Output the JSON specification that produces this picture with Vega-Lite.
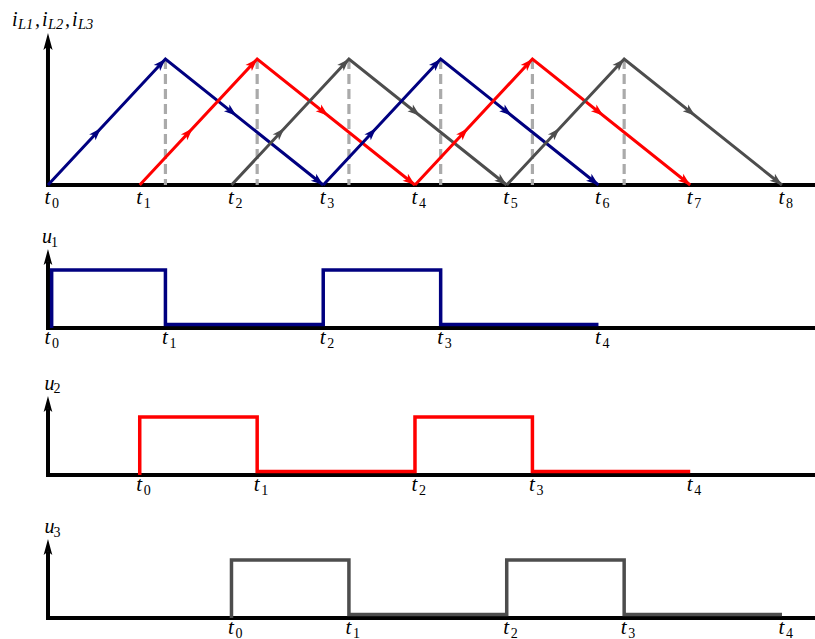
{
  "$schema": "https://vega.github.io/schema/vega-lite/v6.json",
  "padding": 0,
  "background": "white",
  "spacing": 0,
  "bounds": "flush",
  "config": {
    "view": {"stroke": null},
    "axis": {"disable": true},
    "text": {"font": "Liberation Serif", "fontStyle": "italic", "color": "black"}
  },
  "datasets": {
    "tri": [
      {"id": "a1", "ph": "L1", "t": 0, "v": 0}, {"id": "a1", "ph": "L1", "t": 1.28, "v": 1}, {"id": "a1", "ph": "L1", "t": 3, "v": 0},
      {"id": "b1", "ph": "L2", "t": 1, "v": 0}, {"id": "b1", "ph": "L2", "t": 2.28, "v": 1}, {"id": "b1", "ph": "L2", "t": 4, "v": 0},
      {"id": "c1", "ph": "L3", "t": 2, "v": 0}, {"id": "c1", "ph": "L3", "t": 3.28, "v": 1}, {"id": "c1", "ph": "L3", "t": 5, "v": 0},
      {"id": "a2", "ph": "L1", "t": 3, "v": 0}, {"id": "a2", "ph": "L1", "t": 4.28, "v": 1}, {"id": "a2", "ph": "L1", "t": 6, "v": 0},
      {"id": "b2", "ph": "L2", "t": 4, "v": 0}, {"id": "b2", "ph": "L2", "t": 5.28, "v": 1}, {"id": "b2", "ph": "L2", "t": 7, "v": 0},
      {"id": "c2", "ph": "L3", "t": 5, "v": 0}, {"id": "c2", "ph": "L3", "t": 6.28, "v": 1}, {"id": "c2", "ph": "L3", "t": 8, "v": 0}
    ],
    "arrows": [
      {"ph": "L1", "t": 0.576, "v": 0.45, "dir": "up"}, {"ph": "L1", "t": 1.28, "v": 1, "dir": "up"}, {"ph": "L1", "t": 2.054, "v": 0.55, "dir": "down"}, {"ph": "L1", "t": 3, "v": 0, "dir": "down"},
      {"ph": "L2", "t": 1.576, "v": 0.45, "dir": "up"}, {"ph": "L2", "t": 2.28, "v": 1, "dir": "up"}, {"ph": "L2", "t": 3.054, "v": 0.55, "dir": "down"}, {"ph": "L2", "t": 4, "v": 0, "dir": "down"},
      {"ph": "L3", "t": 2.576, "v": 0.45, "dir": "up"}, {"ph": "L3", "t": 3.28, "v": 1, "dir": "up"}, {"ph": "L3", "t": 4.054, "v": 0.55, "dir": "down"}, {"ph": "L3", "t": 5, "v": 0, "dir": "down"},
      {"ph": "L1", "t": 3.576, "v": 0.45, "dir": "up"}, {"ph": "L1", "t": 4.28, "v": 1, "dir": "up"}, {"ph": "L1", "t": 5.054, "v": 0.55, "dir": "down"}, {"ph": "L1", "t": 6, "v": 0, "dir": "down"},
      {"ph": "L2", "t": 4.576, "v": 0.45, "dir": "up"}, {"ph": "L2", "t": 5.28, "v": 1, "dir": "up"}, {"ph": "L2", "t": 6.054, "v": 0.55, "dir": "down"}, {"ph": "L2", "t": 7, "v": 0, "dir": "down"},
      {"ph": "L3", "t": 5.576, "v": 0.45, "dir": "up"}, {"ph": "L3", "t": 6.28, "v": 1, "dir": "up"}, {"ph": "L3", "t": 7.054, "v": 0.55, "dir": "down"}, {"ph": "L3", "t": 8, "v": 0, "dir": "down"}
    ],
    "peaks": [{"t": 1.28}, {"t": 2.28}, {"t": 3.28}, {"t": 4.28}, {"t": 5.28}, {"t": 6.28}],
    "ticks0": [
      {"t": 0, "n": "0"}, {"t": 1, "n": "1"}, {"t": 2, "n": "2"}, {"t": 3, "n": "3"}, {"t": 4, "n": "4"},
      {"t": 5, "n": "5"}, {"t": 6, "n": "6"}, {"t": 7, "n": "7"}, {"t": 8, "n": "8"}
    ],
    "u1": [
      {"k": 0, "t": 0.04, "v": 0}, {"k": 1, "t": 0.04, "v": 1}, {"k": 2, "t": 1.28, "v": 1}, {"k": 3, "t": 1.28, "v": 0.06},
      {"k": 4, "t": 3, "v": 0.06}, {"k": 5, "t": 3, "v": 1}, {"k": 6, "t": 4.28, "v": 1}, {"k": 7, "t": 4.28, "v": 0.06}, {"k": 8, "t": 6, "v": 0.06}
    ],
    "u2": [
      {"k": 0, "t": 1, "v": 0}, {"k": 1, "t": 1, "v": 1}, {"k": 2, "t": 2.28, "v": 1}, {"k": 3, "t": 2.28, "v": 0.06},
      {"k": 4, "t": 4, "v": 0.06}, {"k": 5, "t": 4, "v": 1}, {"k": 6, "t": 5.28, "v": 1}, {"k": 7, "t": 5.28, "v": 0.06}, {"k": 8, "t": 7, "v": 0.06}
    ],
    "u3": [
      {"k": 0, "t": 2, "v": 0}, {"k": 1, "t": 2, "v": 1}, {"k": 2, "t": 3.28, "v": 1}, {"k": 3, "t": 3.28, "v": 0.06},
      {"k": 4, "t": 5, "v": 0.06}, {"k": 5, "t": 5, "v": 1}, {"k": 6, "t": 6.28, "v": 1}, {"k": 7, "t": 6.28, "v": 0.06}, {"k": 8, "t": 8, "v": 0.06}
    ],
    "tk1": [{"t": 0, "n": "0"}, {"t": 1.28, "n": "1"}, {"t": 3, "n": "2"}, {"t": 4.28, "n": "3"}, {"t": 6, "n": "4"}],
    "tk2": [{"t": 1, "n": "0"}, {"t": 2.28, "n": "1"}, {"t": 4, "n": "2"}, {"t": 5.28, "n": "3"}, {"t": 7, "n": "4"}],
    "tk3": [{"t": 2, "n": "0"}, {"t": 3.28, "n": "1"}, {"t": 5, "n": "2"}, {"t": 6.28, "n": "3"}, {"t": 8, "n": "4"}]
  },
  "vconcat": [
    {
      "width": 815,
      "height": 185,
      "layer": [
        {"data": {"values": [{}]}, "mark": {"type": "rule", "color": "black", "strokeWidth": 4}, "encoding": {"x": {"datum": -0.015, "type": "quantitative"}, "x2": {"datum": 8.36}, "y": {"datum": 0, "type": "quantitative"}}},
        {"data": {"values": [{}]}, "mark": {"type": "rule", "color": "black", "strokeWidth": 4}, "encoding": {"x": {"datum": 0, "type": "quantitative"}, "y": {"datum": -0.016, "type": "quantitative"}, "y2": {"datum": 1.12}}},
        {"data": {"values": [{}]}, "mark": {"type": "point", "shape": "M0,0L0.27,1L0,0.78L-0.27,1Z", "size": 1156, "filled": true, "opacity": 1, "color": "black", "strokeWidth": 0}, "encoding": {"x": {"datum": 0, "type": "quantitative"}, "y": {"datum": 1.206, "type": "quantitative"}}},
        {
          "data": {"name": "peaks"},
          "mark": {"type": "rule", "color": "#aaaaaa", "strokeWidth": 3.2, "strokeDash": [10, 5]},
          "encoding": {"x": {"field": "t", "type": "quantitative"}, "y": {"datum": 1, "type": "quantitative"}, "y2": {"datum": 0}}
        },
        {
          "data": {"name": "tri"},
          "mark": {"type": "line", "strokeWidth": 3, "strokeJoin": "miter"},
          "encoding": {
            "x": {"field": "t", "type": "quantitative", "scale": {"domain": [-0.523, 8.36], "nice": false, "zero": false}, "axis": null},
            "y": {"field": "v", "type": "quantitative", "scale": {"domain": [0, 1.468], "nice": false, "zero": false}, "axis": null},
            "color": {"field": "ph", "type": "nominal", "scale": {"domain": ["L1", "L2", "L3"], "range": ["#000080", "#ff0000", "#4d4d4d"]}, "legend": null},
            "detail": {"field": "id"}
          }
        },
        {
          "data": {"name": "arrows"},
          "mark": {"type": "point", "shape": "M0,0L0.35,1L0,0.75L-0.35,1Z", "size": 620, "filled": true, "opacity": 1, "strokeWidth": 0},
          "encoding": {
            "x": {"field": "t", "type": "quantitative"},
            "y": {"field": "v", "type": "quantitative"},
            "color": {"field": "ph", "type": "nominal", "scale": {"domain": ["L1", "L2", "L3"], "range": ["#000080", "#ff0000", "#4d4d4d"]}, "legend": null},
            "angle": {"field": "dir", "type": "nominal", "scale": {"domain": ["up", "down"], "range": [43, 128.6]}}
          }
        },
        {"data": {"name": "ticks0"}, "mark": {"type": "text", "align": "left", "baseline": "alphabetic", "dx": -3.5, "dy": 18.5, "fontSize": 21}, "encoding": {"x": {"field": "t", "type": "quantitative"}, "y": {"datum": 0, "type": "quantitative"}, "text": {"value": "t"}}},
        {"data": {"name": "ticks0"}, "mark": {"type": "text", "align": "left", "baseline": "alphabetic", "dx": 4, "dy": 22.5, "fontSize": 14, "fontStyle": "normal"}, "encoding": {"x": {"field": "t", "type": "quantitative"}, "y": {"datum": 0, "type": "quantitative"}, "text": {"field": "n"}}},
        {"data": {"values": [{}]}, "mark": {"type": "text", "align": "left", "baseline": "alphabetic", "dx": -36, "dy": -7, "fontSize": 20}, "encoding": {"x": {"datum": 0, "type": "quantitative"}, "y": {"datum": 1.206, "type": "quantitative"}, "text": {"value": "i"}}},
        {"data": {"values": [{}]}, "mark": {"type": "text", "align": "left", "baseline": "alphabetic", "dx": -30, "dy": -4, "fontSize": 14.5}, "encoding": {"x": {"datum": 0, "type": "quantitative"}, "y": {"datum": 1.206, "type": "quantitative"}, "text": {"value": "L1"}}},
        {"data": {"values": [{}]}, "mark": {"type": "text", "align": "left", "baseline": "alphabetic", "dx": -13, "dy": -7, "fontSize": 20}, "encoding": {"x": {"datum": 0, "type": "quantitative"}, "y": {"datum": 1.206, "type": "quantitative"}, "text": {"value": ","}}},
        {"data": {"values": [{}]}, "mark": {"type": "text", "align": "left", "baseline": "alphabetic", "dx": -6, "dy": -7, "fontSize": 20}, "encoding": {"x": {"datum": 0, "type": "quantitative"}, "y": {"datum": 1.206, "type": "quantitative"}, "text": {"value": "i"}}},
        {"data": {"values": [{}]}, "mark": {"type": "text", "align": "left", "baseline": "alphabetic", "dx": 0, "dy": -4, "fontSize": 14.5}, "encoding": {"x": {"datum": 0, "type": "quantitative"}, "y": {"datum": 1.206, "type": "quantitative"}, "text": {"value": "L2"}}},
        {"data": {"values": [{}]}, "mark": {"type": "text", "align": "left", "baseline": "alphabetic", "dx": 17, "dy": -7, "fontSize": 20}, "encoding": {"x": {"datum": 0, "type": "quantitative"}, "y": {"datum": 1.206, "type": "quantitative"}, "text": {"value": ","}}},
        {"data": {"values": [{}]}, "mark": {"type": "text", "align": "left", "baseline": "alphabetic", "dx": 24, "dy": -7, "fontSize": 20}, "encoding": {"x": {"datum": 0, "type": "quantitative"}, "y": {"datum": 1.206, "type": "quantitative"}, "text": {"value": "i"}}},
        {"data": {"values": [{}]}, "mark": {"type": "text", "align": "left", "baseline": "alphabetic", "dx": 30, "dy": -4, "fontSize": 14.5}, "encoding": {"x": {"datum": 0, "type": "quantitative"}, "y": {"datum": 1.206, "type": "quantitative"}, "text": {"value": "L3"}}}
      ]
    },
    {
      "width": 815,
      "height": 143,
      "layer": [
        {"data": {"values": [{}]}, "mark": {"type": "rule", "color": "black", "strokeWidth": 4}, "encoding": {"x": {"datum": -0.015, "type": "quantitative"}, "x2": {"datum": 8.36}, "y": {"datum": 0, "type": "quantitative"}}},
        {"data": {"values": [{}]}, "mark": {"type": "rule", "color": "black", "strokeWidth": 4}, "encoding": {"x": {"datum": 0, "type": "quantitative"}, "y": {"datum": -0.035, "type": "quantitative"}, "y2": {"datum": 1.15}}},
        {"data": {"values": [{}]}, "mark": {"type": "point", "shape": "M0,0L0.27,1L0,0.78L-0.27,1Z", "size": 1024, "filled": true, "opacity": 1, "color": "black", "strokeWidth": 0}, "encoding": {"x": {"datum": 0, "type": "quantitative"}, "y": {"datum": 1.362, "type": "quantitative"}}},
        {
          "data": {"name": "u1"},
          "mark": {"type": "line", "color": "#000080", "strokeWidth": 3.5, "strokeJoin": "miter"},
          "encoding": {
            "x": {"field": "t", "type": "quantitative", "scale": {"domain": [-0.523, 8.36], "nice": false, "zero": false}, "axis": null},
            "y": {"field": "v", "type": "quantitative", "scale": {"domain": [0, 2.466], "nice": false, "zero": false}, "axis": null},
            "order": {"field": "k", "type": "quantitative"}
          }
        },
        {"data": {"name": "tk1"}, "mark": {"type": "text", "align": "left", "baseline": "alphabetic", "dx": -3.5, "dy": 15.5, "fontSize": 21}, "encoding": {"x": {"field": "t", "type": "quantitative"}, "y": {"datum": 0, "type": "quantitative"}, "text": {"value": "t"}}},
        {"data": {"name": "tk1"}, "mark": {"type": "text", "align": "left", "baseline": "alphabetic", "dx": 4, "dy": 19.5, "fontSize": 14, "fontStyle": "normal"}, "encoding": {"x": {"field": "t", "type": "quantitative"}, "y": {"datum": 0, "type": "quantitative"}, "text": {"field": "n"}}},
        {"data": {"values": [{}]}, "mark": {"type": "text", "align": "left", "baseline": "alphabetic", "dx": -6, "dy": -6, "fontSize": 20}, "encoding": {"x": {"datum": 0, "type": "quantitative"}, "y": {"datum": 1.362, "type": "quantitative"}, "text": {"value": "u"}}},
        {"data": {"values": [{}]}, "mark": {"type": "text", "align": "left", "baseline": "alphabetic", "dx": 3, "dy": -2.5, "fontSize": 14, "fontStyle": "normal"}, "encoding": {"x": {"datum": 0, "type": "quantitative"}, "y": {"datum": 1.362, "type": "quantitative"}, "text": {"value": "1"}}}
      ]
    },
    {
      "width": 815,
      "height": 147,
      "layer": [
        {"data": {"values": [{}]}, "mark": {"type": "rule", "color": "black", "strokeWidth": 4}, "encoding": {"x": {"datum": -0.015, "type": "quantitative"}, "x2": {"datum": 8.36}, "y": {"datum": 0, "type": "quantitative"}}},
        {"data": {"values": [{}]}, "mark": {"type": "rule", "color": "black", "strokeWidth": 4}, "encoding": {"x": {"datum": 0, "type": "quantitative"}, "y": {"datum": -0.035, "type": "quantitative"}, "y2": {"datum": 1.15}}},
        {"data": {"values": [{}]}, "mark": {"type": "point", "shape": "M0,0L0.27,1L0,0.78L-0.27,1Z", "size": 1024, "filled": true, "opacity": 1, "color": "black", "strokeWidth": 0}, "encoding": {"x": {"datum": 0, "type": "quantitative"}, "y": {"datum": 1.362, "type": "quantitative"}}},
        {
          "data": {"name": "u2"},
          "mark": {"type": "line", "color": "#ff0000", "strokeWidth": 3.5, "strokeJoin": "miter"},
          "encoding": {
            "x": {"field": "t", "type": "quantitative", "scale": {"domain": [-0.523, 8.36], "nice": false, "zero": false}, "axis": null},
            "y": {"field": "v", "type": "quantitative", "scale": {"domain": [0, 2.534], "nice": false, "zero": false}, "axis": null},
            "order": {"field": "k", "type": "quantitative"}
          }
        },
        {"data": {"name": "tk2"}, "mark": {"type": "text", "align": "left", "baseline": "alphabetic", "dx": -3.5, "dy": 15.5, "fontSize": 21}, "encoding": {"x": {"field": "t", "type": "quantitative"}, "y": {"datum": 0, "type": "quantitative"}, "text": {"value": "t"}}},
        {"data": {"name": "tk2"}, "mark": {"type": "text", "align": "left", "baseline": "alphabetic", "dx": 4, "dy": 19.5, "fontSize": 14, "fontStyle": "normal"}, "encoding": {"x": {"field": "t", "type": "quantitative"}, "y": {"datum": 0, "type": "quantitative"}, "text": {"field": "n"}}},
        {"data": {"values": [{}]}, "mark": {"type": "text", "align": "left", "baseline": "alphabetic", "dx": -3.5, "dy": -6, "fontSize": 20}, "encoding": {"x": {"datum": 0, "type": "quantitative"}, "y": {"datum": 1.362, "type": "quantitative"}, "text": {"value": "u"}}},
        {"data": {"values": [{}]}, "mark": {"type": "text", "align": "left", "baseline": "alphabetic", "dx": 5.5, "dy": -2.5, "fontSize": 14, "fontStyle": "normal"}, "encoding": {"x": {"datum": 0, "type": "quantitative"}, "y": {"datum": 1.362, "type": "quantitative"}, "text": {"value": "2"}}}
      ]
    },
    {
      "width": 815,
      "height": 143,
      "layer": [
        {"data": {"values": [{}]}, "mark": {"type": "rule", "color": "black", "strokeWidth": 4}, "encoding": {"x": {"datum": -0.015, "type": "quantitative"}, "x2": {"datum": 8.36}, "y": {"datum": 0, "type": "quantitative"}}},
        {"data": {"values": [{}]}, "mark": {"type": "rule", "color": "black", "strokeWidth": 4}, "encoding": {"x": {"datum": 0, "type": "quantitative"}, "y": {"datum": -0.035, "type": "quantitative"}, "y2": {"datum": 1.15}}},
        {"data": {"values": [{}]}, "mark": {"type": "point", "shape": "M0,0L0.27,1L0,0.78L-0.27,1Z", "size": 1024, "filled": true, "opacity": 1, "color": "black", "strokeWidth": 0}, "encoding": {"x": {"datum": 0, "type": "quantitative"}, "y": {"datum": 1.362, "type": "quantitative"}}},
        {
          "data": {"name": "u3"},
          "mark": {"type": "line", "color": "#4d4d4d", "strokeWidth": 3.5, "strokeJoin": "miter"},
          "encoding": {
            "x": {"field": "t", "type": "quantitative", "scale": {"domain": [-0.523, 8.36], "nice": false, "zero": false}, "axis": null},
            "y": {"field": "v", "type": "quantitative", "scale": {"domain": [0, 2.466], "nice": false, "zero": false}, "axis": null},
            "order": {"field": "k", "type": "quantitative"}
          }
        },
        {"data": {"name": "tk3"}, "mark": {"type": "text", "align": "left", "baseline": "alphabetic", "dx": -3.5, "dy": 15.5, "fontSize": 21}, "encoding": {"x": {"field": "t", "type": "quantitative"}, "y": {"datum": 0, "type": "quantitative"}, "text": {"value": "t"}}},
        {"data": {"name": "tk3"}, "mark": {"type": "text", "align": "left", "baseline": "alphabetic", "dx": 4, "dy": 19.5, "fontSize": 14, "fontStyle": "normal"}, "encoding": {"x": {"field": "t", "type": "quantitative"}, "y": {"datum": 0, "type": "quantitative"}, "text": {"field": "n"}}},
        {"data": {"values": [{}]}, "mark": {"type": "text", "align": "left", "baseline": "alphabetic", "dx": -3.5, "dy": -6, "fontSize": 20}, "encoding": {"x": {"datum": 0, "type": "quantitative"}, "y": {"datum": 1.362, "type": "quantitative"}, "text": {"value": "u"}}},
        {"data": {"values": [{}]}, "mark": {"type": "text", "align": "left", "baseline": "alphabetic", "dx": 5.5, "dy": -2.5, "fontSize": 14, "fontStyle": "normal"}, "encoding": {"x": {"datum": 0, "type": "quantitative"}, "y": {"datum": 1.362, "type": "quantitative"}, "text": {"value": "3"}}}
      ]
    }
  ]
}
